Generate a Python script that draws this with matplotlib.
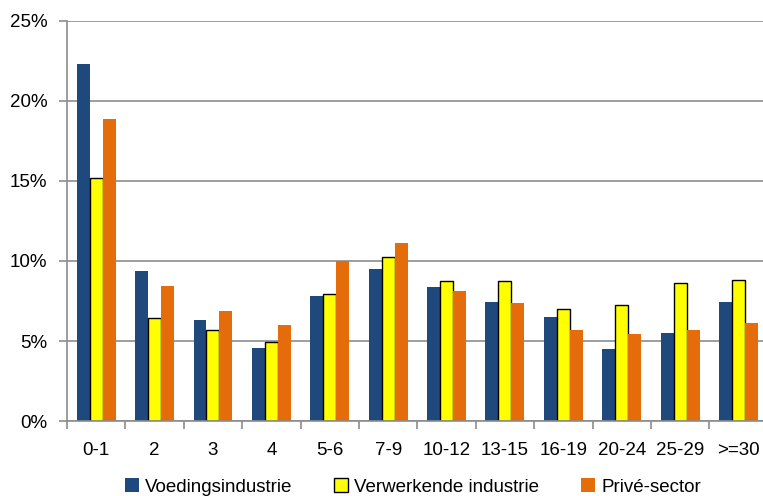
import numpy as np
import matplotlib
matplotlib.use("Agg")
import matplotlib.pyplot as plt
from matplotlib.ticker import FixedLocator, PercentFormatter

# data
categories = ["0-1", "2", "3", "4", "5-6", "7-9", "10-12", "13-15", "16-19", "20-24", "25-29", ">=30"]
voeding = [22.3, 9.4, 6.3, 4.55, 7.8, 9.5, 8.35, 7.45, 6.5, 4.5, 5.5, 7.45]
verwerkend = [15.2, 6.45, 5.7, 4.95, 7.95, 10.25, 8.75, 8.75, 7.0, 7.25, 8.6, 8.8]
prive = [18.85, 8.45, 6.9, 6.0, 10.0, 11.1, 8.1, 7.35, 5.7, 5.45, 5.7, 6.1]
series_names = ["Voedingsindustrie", "Verwerkende industrie", "Privé-sector"]

plt.rcParams['font.family'] = ['Liberation Sans', 'DejaVu Sans']

fig = plt.figure(figsize=(7.63, 4.96), dpi=100, facecolor='white')
ax = fig.add_axes([0.0878, 0.151, 0.9122, 0.807])

x = np.arange(len(categories))
w = 0.222
b1 = ax.bar(x - w, voeding, w, color='#1F497D', zorder=3, label=series_names[0])
b2 = ax.bar(x, verwerkend, w, color='#FFFF00', edgecolor='black', linewidth=1.0,
            zorder=3, label=series_names[1])
b3 = ax.bar(x + w, prive, w, color='#E46C0A', zorder=3, label=series_names[2])

ax.set_ylim(0, 25)
ax.set_xlim(-0.5, 11.42)
ax.set_yticks(np.arange(0, 26, 5))
ax.yaxis.set_major_formatter(PercentFormatter(decimals=0))
ax.yaxis.grid(True, color='#8c8c8c', linewidth=1.2, zorder=0)

ax.set_xticks(x)
ax.set_xticklabels(categories)
ax.xaxis.set_minor_locator(FixedLocator(np.arange(-0.5, 12, 1.0)))
ax.tick_params(axis='x', which='major', length=0, pad=15, labelsize=13.5)
ax.tick_params(axis='x', which='minor', length=6, width=1.2, color='#8c8c8c', direction='out')
ax.tick_params(axis='y', length=6, width=1.2, color='#8c8c8c', pad=8, labelsize=13.5)

for s in ['top', 'right']:
    ax.spines[s].set_visible(False)
for s in ['left', 'bottom']:
    ax.spines[s].set_color('#8c8c8c')
    ax.spines[s].set_linewidth(1.2)
ax.spines['left'].set_zorder(4)
ax.spines['bottom'].set_zorder(4)

fig.legend(handles=[b1, b2, b3], loc='center', bbox_to_anchor=(0.541, 0.018), ncol=3,
           frameon=False, fontsize=13.5, handlelength=0.75, handleheight=0.75,
           handletextpad=0.35, columnspacing=2.2)

fig.savefig("out.png", dpi=100, facecolor='white')
